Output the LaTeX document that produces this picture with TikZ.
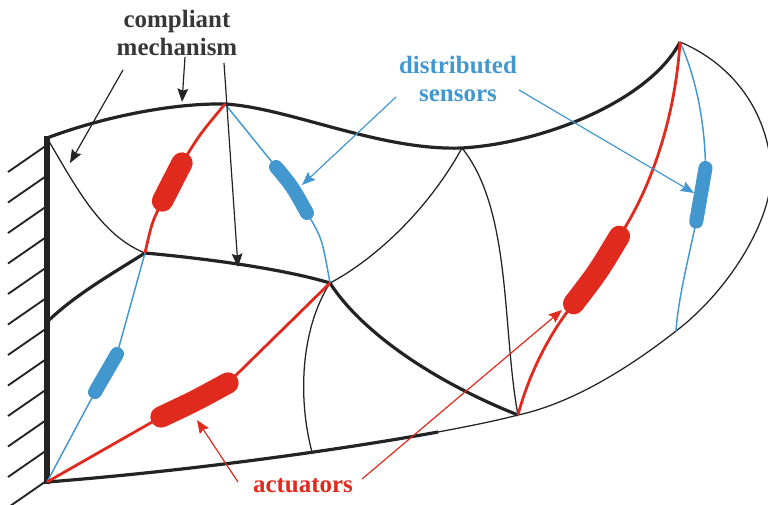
\documentclass[tikz,border=0pt]{standalone}
\usepackage{fontspec}
\setmainfont{Liberation Serif}
\usetikzlibrary{arrows.meta}

\definecolor{beam}{RGB}{35,35,35}
\definecolor{txtgray}{RGB}{55,55,55}
\definecolor{actred}{RGB}{224,42,30}
\definecolor{sensblue}{RGB}{67,151,207}

\begin{document}
\begin{tikzpicture}[x=0.75pt,y=0.75pt,yscale=-1,xscale=1,
    thickbeam/.style={draw=beam,line width=2.4pt},
    thinbeam/.style={draw=beam,line width=0.95pt},
    actline/.style={draw=actred,line width=2.1pt},
    sensline/.style={draw=sensblue,line width=1.1pt},
    actbody/.style={draw=actred,line width=16pt,line cap=round},
    sensbody/.style={draw=sensblue,line width=10.5pt,line cap=round},
    pointer/.style={line width=0.9pt,-{Stealth[length=10pt,width=8pt,inset=1.5pt]}},
    lbl/.style={font=\fontsize{18.7}{21}\selectfont\bfseries,align=center,inner sep=0pt}]
\useasboundingbox (0,0) rectangle (768,504);

%Joints of the frame
\coordinate (A) at (47,138);
\coordinate (B) at (225,104);
\coordinate (C) at (462,148);
\coordinate (D) at (680,42);
\coordinate (E) at (145,253);
\coordinate (F) at (330,283);
\coordinate (G) at (47,482);
\coordinate (H) at (518,415);
\coordinate (I) at (47,322);
\coordinate (J) at (438,432);
\coordinate (K) at (676,331);
\coordinate (L) at (312,452);
\coordinate (R) at (771,165);

%Ends of actuator and sensor bodies
\coordinate (act1a) at (182,163);
\coordinate (act1b) at (162.5,201);
\coordinate (act2a) at (161,417);
\coordinate (act2b) at (228,383);
\coordinate (act3a) at (573.6,303.7);
\coordinate (act3b) at (619.4,236.3);
\coordinate (sen1a) at (276,167);
\coordinate (sen1b) at (307,213);
\coordinate (sen2a) at (117,354);
\coordinate (sen2b) at (95,392);
\coordinate (sen3a) at (705.5,168);
\coordinate (sen3b) at (696.2,221.6);

%Wall with hatching
\foreach \k in {0,...,11}
  \draw[beam,line width=1.4pt] (47,145+30.5*\k) -- ++(-39,27);
\draw[beam,line width=3.8pt] (47,136) -- (47,484);

%Outer boundary
\draw[thickbeam] (A) .. controls (100,118) and (170,103) .. (B)
  .. controls (290,108) and (380,151) .. (C)
  .. controls (545,143) and (650,100) .. (D);
\draw[thinbeam] (D) .. controls (728,62) and (765,105) .. (R)
  .. controls (776,215) and (730,290) .. (K)
  .. controls (620,375) and (565,405) .. (H);
\draw[thinbeam] (J) .. controls (470,426) and (495,421) .. (H);
\draw[thickbeam] (G) .. controls (200,470) and (350,448) .. (J);

%Inner links
\draw[thinbeam] (A) .. controls (75,185) and (100,235) .. (E);
\draw[thickbeam] (E) .. controls (110,275) and (75,295) .. (I);
\draw[thickbeam] (E) .. controls (200,258) and (280,268) .. (F);
\draw[thinbeam] (F) .. controls (370,262) and (425,215) .. (C);
\draw[thinbeam] (C) .. controls (512,210) and (502,330) .. (H);
\draw[thickbeam] (F) .. controls (360,330) and (430,380) .. (H);
\draw[thinbeam] (F) .. controls (300,330) and (298,400) .. (L);

%Sensor wires
\draw[sensline] (B) -- (sen1a) .. controls (292,186) .. (sen1b) .. controls (322,238) .. (F);
\draw[sensline] (E) -- (sen2a) -- (sen2b) -- (G);
\draw[sensline] (D) .. controls (695,75) and (705,120) .. (sen3a) -- (sen3b)
  .. controls (688,260) and (678,300) .. (K);

%Actuator wires
\draw[actline] (B) .. controls (200,134) .. (act1a) -- (act1b) .. controls (152,222) .. (E);
\draw[actline] (G) -- (act2a) .. controls (195,401) .. (act2b) -- (F);
\draw[actline] (H) .. controls (530,370) and (552,330) .. (act3a)
  .. controls (598,272) .. (act3b) .. controls (650,190) and (675,120) .. (D);

%Bodies
\draw[actbody] (act1a) -- (act1b);
\draw[actbody] (act2a) .. controls (195,401) .. (act2b);
\draw[actbody] (act3a) .. controls (598,272) .. (act3b);
\draw[sensbody] (sen1a) .. controls (292,186) .. (sen1b);
\draw[sensbody] (sen2a) -- (sen2b);
\draw[sensbody] (sen3a) -- (sen3b);

% Text Node
\node[lbl,txtgray,anchor=base] (cmlab) at (177,55) {compliant\\mechanism};
\node[lbl,sensblue,anchor=base] (dslab) at (458,101) {distributed\\sensors};
\node[lbl,actred,anchor=base] (aclab) at (303,492) {actuators};

%Pointers
\coordinate (cmp1) at (123,70);  \coordinate (cmt1) at (70,163);
\coordinate (cmp2) at (185,57);  \coordinate (cmt2) at (182,102);
\coordinate (cmp3) at (224,63);  \coordinate (cmt3) at (238,267);
\coordinate (dsp1) at (396,97);  \coordinate (dst1) at (302,185);
\coordinate (dsp2) at (519,90);  \coordinate (dst2) at (694,193);
\coordinate (acp1) at (238,482); \coordinate (act1) at (197,420);
\coordinate (acp2) at (362,479); \coordinate (act2) at (562,310);
\draw[pointer,beam] (cmp1) -- (cmt1);
\draw[pointer,beam] (cmp2) -- (cmt2);
\draw[pointer,beam] (cmp3) -- (cmt3);
\draw[pointer,sensblue] (dsp1) -- (dst1);
\draw[pointer,sensblue] (dsp2) -- (dst2);
\draw[pointer,actred] (acp1) -- (act1);
\draw[pointer,actred] (acp2) -- (act2);

\end{tikzpicture}
\end{document}
